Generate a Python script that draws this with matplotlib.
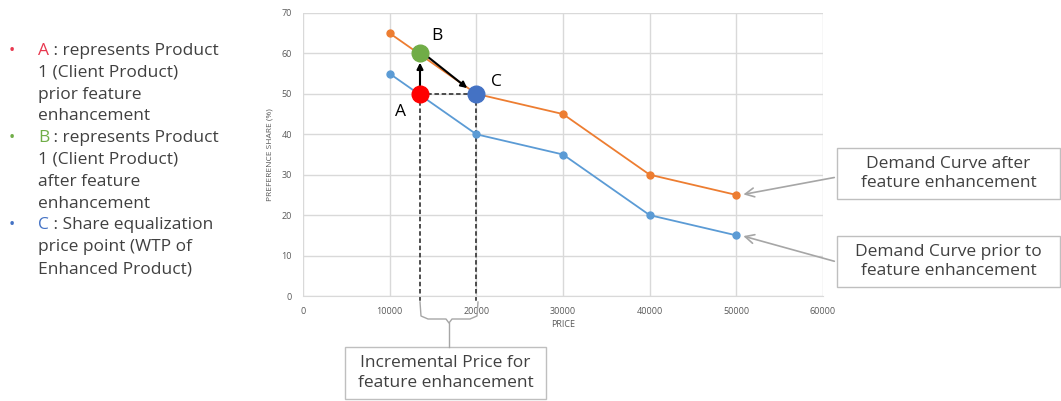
import matplotlib.pyplot as plt
from matplotlib.patches import FancyArrowPatch, Rectangle

plt.rcParams['font.family'] = ['Open Sans', 'DejaVu Sans']

price = [10000, 20000, 30000, 40000, 50000]
share_after = [65, 50, 45, 30, 25]
share_prior = [55, 40, 35, 20, 15]

pt_labels = ['A', 'B', 'C']
pt_x = [13500, 13500, 20000]
pt_y = [50, 60, 50]
pt_colors = ['#FF0000', '#70AD47', '#4472C4']

legend_lines = [
    ('A', ' : represents Product', '#E8384F'),
    ('', '1 (Client Product)', None),
    ('', 'prior feature', None),
    ('', 'enhancement', None),
    ('B', ' : represents Product', '#70AD47'),
    ('', '1 (Client Product)', None),
    ('', 'after feature', None),
    ('', 'enhancement', None),
    ('C', ' : Share equalization', '#4472C4'),
    ('', 'price point (WTP of', None),
    ('', 'Enhanced Product)', None),
]

W, H = 1061, 401
fig = plt.figure(figsize=(W / 100, H / 100), dpi=100)
ax = fig.add_axes([303 / W, 1 - 296 / H, 520 / W, 283 / H])

ax.plot(price, share_after, color='#ED7D31', lw=1.3, marker='o', ms=5, zorder=3)
ax.plot(price, share_prior, color='#5B9BD5', lw=1.3, marker='o', ms=5, zorder=3)

ax.set_xlim(0, 60000)
ax.set_ylim(0, 70)
ax.set_xticks(range(0, 60001, 10000))
ax.set_yticks(range(0, 71, 10))
ax.grid(True, color='#D9D9D9', lw=1)
ax.set_axisbelow(True)
for s in ['top', 'right', 'left']:
    ax.spines[s].set_visible(False)
ax.spines['bottom'].set_color('#D9D9D9')
ax.tick_params(length=0, labelsize=6.5, colors='#595959', pad=8)
ax.set_xlabel('PRICE', fontsize=6.5, color='#595959', labelpad=3)
ax.set_ylabel('PREFERENCE SHARE (%)', fontsize=6, color='#595959', labelpad=6)

# dashed guide lines
ax.plot([pt_x[0], pt_x[2]], [pt_y[0], pt_y[2]], ls=(0, (2.5, 1.5)), color='#404040', lw=1.3, zorder=2)
for xi, yi in [(pt_x[0], pt_y[0]), (pt_x[2], pt_y[2])]:
    ax.plot([xi, xi], [yi, -1.5], ls=(0, (2.5, 1.5)), color='#404040', lw=1.3, zorder=2, clip_on=False)

# arrows A->B, B->C
ax.add_patch(FancyArrowPatch((pt_x[0], pt_y[0] + 1.2), (pt_x[1], pt_y[1] - 1.6),
                             arrowstyle='-|>', mutation_scale=9, color='black', lw=1.5, zorder=5))
ax.add_patch(FancyArrowPatch((pt_x[1] + 700, pt_y[1] - 0.5), (pt_x[2] - 800, pt_y[2] + 1.0),
                             arrowstyle='-|>', mutation_scale=9, color='black', lw=1.5, zorder=5))

for lab, xi, yi, c in zip(pt_labels, pt_x, pt_y, pt_colors):
    ax.plot(xi, yi, 'o', ms=12, color=c, zorder=6)

ax.text(pt_x[0] - 2300, pt_y[0] - 4.5, 'A', fontsize=12.5, color='black', ha='center', va='center')
ax.text(pt_x[1] + 1900, pt_y[1] + 4.2, 'B', fontsize=12.5, color='black', ha='center', va='center')
ax.text(pt_x[2] + 2300, pt_y[2] + 3.0, 'C', fontsize=12.5, color='black', ha='center', va='center')

def fx(px):
    return px / W
def fy(py):
    return 1 - py / H

# brace below axis
bx = [420, 421, 428, 446, 449, 452, 470, 477, 478]
by = [302, 316, 319, 319, 323, 319, 319, 316, 302]
fig.add_artist(plt.Line2D([fx(v) for v in bx], [fy(v) for v in by], color='#A6A6A6', lw=1))
fig.add_artist(plt.Line2D([fx(449), fx(449)], [fy(323), fy(347)], color='#A6A6A6', lw=1))

def box(x0, y0, x1, y1, text):
    fig.add_artist(Rectangle((fx(x0), fy(y1)), (x1 - x0) / W, (y1 - y0) / H,
                             transform=fig.transFigure, fc='white', ec='#BFBFBF', lw=1))
    fig.text(fx((x0 + x1) / 2), fy((y0 + y1) / 2), text, fontsize=12.5, color='#404040',
             ha='center', va='center', linespacing=1.3)

box(345, 347, 546, 399, 'Incremental Price for\nfeature enhancement')
box(837, 148, 1060, 199, 'Demand Curve after\nfeature enhancement')
box(837, 236, 1060, 287, 'Demand Curve prior to\nfeature enhancement')

# callout arrows
for (x0, y0), (dx, dy) in [((837, 177), (price[-1], share_after[-1])),
                           ((837, 262), (price[-1], share_prior[-1]))]:
    ax.annotate('', xy=(dx + 500, dy), xycoords='data',
                xytext=(fx(x0), fy(y0)), textcoords='figure fraction',
                arrowprops=dict(arrowstyle='->', color='#A6A6A6', lw=1.2, mutation_scale=16),
                annotation_clip=False)

# left side bullet text
fig.canvas.draw()
r = fig.canvas.get_renderer()
y0 = 51
for i, (head, rest, col) in enumerate(legend_lines):
    y = fy(y0 + i * 21.8)
    if head:
        fig.text(fx(12), y, '\u2022', fontsize=12, color=col, ha='center', va='center')
        t = fig.text(fx(38), y, head, fontsize=12.5, color=col, ha='left', va='center')
        bb = t.get_window_extent(renderer=r)
        fig.text(bb.x1 / W, y, rest, fontsize=12.5, color='#404040', ha='left', va='center')
    else:
        fig.text(fx(38), y, rest, fontsize=12.5, color='#404040', ha='left', va='center')

fig.savefig('out.png', dpi=100)
